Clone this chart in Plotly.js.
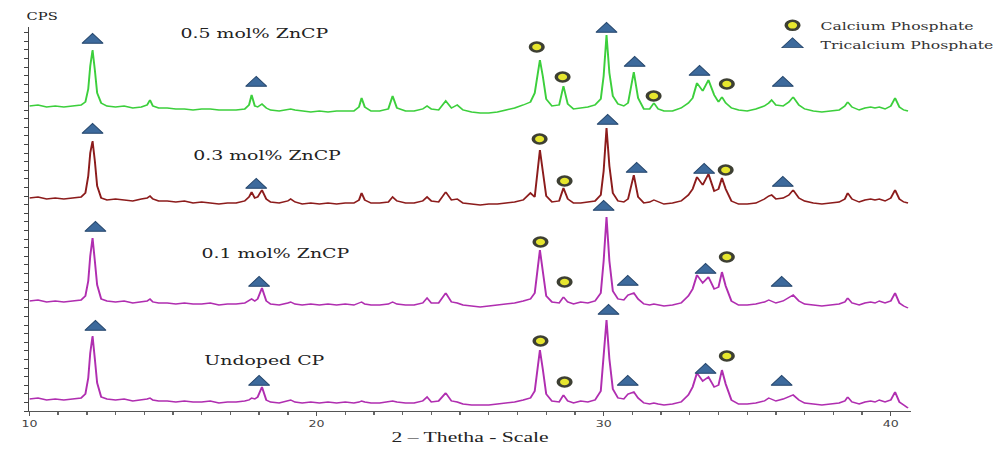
<!DOCTYPE html>
<html>
<head>
<meta charset="utf-8">
<script src="https://cdn.plot.ly/plotly-3.0.1.min.js"></script>
<style>
html,body{margin:0;padding:0;background:#fff;overflow:hidden}
#wrap{width:999px;height:449px;overflow:hidden}
#chart{width:714px;height:449px;transform:scaleX(1.3992);transform-origin:0 0}
</style>
</head>
<body>
<div id="wrap"><div id="chart"></div></div>
<script>
// 2-theta grid (degrees)
const twoTheta = [10.0,10.3,10.6,10.9,11.2,11.5,11.8,11.95,12.05,12.12,
12.2,12.28,12.36,12.5,12.7,13.0,13.3,13.6,13.9,14.1,
14.2,14.3,14.5,14.8,15.1,15.4,15.7,16.0,16.3,16.6,
16.9,17.2,17.5,17.65,17.74,17.85,17.95,18.1,18.25,18.4,
18.7,19.0,19.1,19.25,19.5,19.8,20.1,20.4,20.7,21.0,
21.3,21.48,21.57,21.68,21.9,22.2,22.5,22.65,22.8,23.1,
23.4,23.7,23.85,24.0,24.25,24.5,24.7,24.9,25.1,25.4,
25.7,26.0,26.3,26.6,26.9,27.2,27.45,27.6,27.7,27.78,
27.88,28.0,28.2,28.45,28.6,28.75,28.95,29.2,29.45,29.7,
29.9,30.0,30.1,30.2,30.32,30.5,30.7,30.85,31.05,31.2,
31.4,31.6,31.75,31.9,32.1,32.4,32.7,32.95,33.1,33.25,
33.45,33.65,33.85,34.0,34.12,34.25,34.45,34.7,35.0,35.3,
35.6,35.75,35.85,36.0,36.25,36.45,36.6,36.8,37.0,37.3,
37.6,37.9,38.2,38.4,38.5,38.65,38.9,39.1,39.3,39.45,
39.6,39.8,40.0,40.15,40.3,40.45,40.6];

// stacked CPS readings (arbitrary units) for each sample
const cps05 = [305,306,304,305,304,305,306,309,322,345,
361,341,318,308,305,304,305,303,304,306,
311,305,303,303,302,302,301,302,302,301,
301,301,302,306,316,305,304,307,303,301,
300,301,302,301,300,299,300,299,300,300,
300,304,313,304,300,300,302,315,303,300,
300,302,305,302,301,310,303,306,301,299,
298,298,299,301,303,306,309,318,340,351,
335,312,305,306,325,307,302,303,304,306,
312,335,376,338,315,307,305,308,339,313,
302,302,308,302,300,300,303,308,313,328,
320,331,316,309,314,308,303,301,300,302,
305,308,311,306,305,309,314,306,302,300,
299,300,301,305,309,304,301,303,304,303,
304,302,305,313,304,301,300];

const cps03 = [213,214,212,213,212,213,214,218,235,258,
270,250,225,213,211,212,211,210,212,213,
215,212,210,210,209,210,208,209,208,207,
208,208,210,214,219,213,214,221,212,209,
208,210,212,209,207,208,207,208,207,208,
208,211,218,211,208,208,209,214,210,208,
208,210,214,210,209,219,211,212,208,207,
206,207,207,208,209,211,218,214,238,261,
240,215,209,210,223,212,208,208,209,210,
216,240,283,245,218,210,209,212,236,214,
208,209,211,209,207,208,210,216,222,234,
226,237,220,222,233,222,210,207,207,208,
212,215,216,212,213,216,221,213,210,208,
207,208,209,212,218,212,209,211,212,211,
212,210,213,221,212,209,208];

const cps01 = [110,111,109,110,109,110,111,115,130,155,
173,150,126,112,110,109,110,108,109,110,
112,109,108,108,107,108,107,107,108,106,
107,107,108,110,112,110,112,123,110,107,
106,108,109,107,106,107,106,107,106,107,
106,108,109,107,106,106,107,109,107,106,
106,108,113,108,108,118,109,108,106,105,
104,105,106,107,108,110,112,118,140,161,
140,115,109,108,114,109,107,109,108,110,
118,150,194,150,120,112,111,116,118,112,
107,106,107,106,105,106,108,115,122,136,
128,134,122,124,139,125,110,106,106,107,
109,111,110,108,110,113,116,110,107,106,
105,106,107,109,113,108,106,108,109,108,
110,108,110,118,108,105,103];

const cpsUndoped = [12,13,11,12,11,12,13,17,33,58,
75,52,28,14,12,11,12,10,11,12,
13,11,10,10,9,10,9,9,10,8,
9,9,10,11,13,12,14,24,11,9,
8,10,11,9,8,9,8,9,8,9,
8,9,10,9,8,8,9,10,9,8,
8,10,14,9,10,18,10,9,7,6,
6,6,7,8,9,11,13,20,42,61,
42,17,10,9,16,10,8,10,9,11,
20,50,91,52,22,13,12,17,19,13,
8,7,8,7,6,7,9,16,24,38,
30,34,24,26,41,27,11,7,7,8,
10,13,12,10,12,14,16,11,8,7,
6,7,8,10,14,9,7,9,10,9,
11,9,11,19,9,6,3];

const sampleNames = ["0.5 mol% ZnCP","0.3 mol% ZnCP","0.1 mol% ZnCP","Undoped CP"];
const phaseNames = ["Calcium Phosphate","Tricalcium Phosphate"];

// phase markers (peak identifications)
const triX = [12.2,17.9,30.1,31.08,33.34,36.24, 12.2,17.9,30.14,31.15,33.5,36.24, 12.3,18.0,30.0,30.84,33.55,36.2, 12.3,18.0,30.17,30.84,33.55,36.2];
const triY = [371,328,382,348,339,328, 281,226,290,242,241,228, 183,128,204,129,141,128, 84,29,100,29,41,29];
const circX = [27.67,28.57,31.74,34.29, 27.77,28.64,34.25, 27.8,28.64,34.29, 27.8,28.64,34.29];
const circY = [364,334,315,327, 272,230,241, 169,129,154, 70,29,55];

// label anchor positions
const labelX = [17.84,18.29,18.57,18.19];
const labelY = [378,256,158,51];

const seriesY = [cps05, cps03, cps01, cpsUndoped];
const colors = ['#3ccf3c','#8c1c1c','#b02eb0','#b02eb0'];

const traces = seriesY.map((ys,i)=>({
  x: twoTheta, y: ys, type:'scatter', mode:'lines', name: sampleNames[i],
  line:{color:colors[i], width:1.4}, showlegend:false, hoverinfo:'skip'
}));
traces.push({
  x: circX, y: circY, type:'scatter', mode:'markers', name: phaseNames[0],
  marker:{symbol:'circle', size:9, color:'#e6e62e', line:{color:'#3d3f33', width:2.5}},
  cliponaxis:false, showlegend:true
});
traces.push({
  x: triX, y: triY, type:'scatter', mode:'markers', name: phaseNames[1],
  marker:{symbol:'triangle-up', size:13, color:'#3d6a9c', line:{color:'#25466c', width:0.8}},
  cliponaxis:false, showlegend:true
});

const annotations = sampleNames.map((t,i)=>({
  text:t, x:labelX[i], y:labelY[i], xref:'x', yref:'y', showarrow:false,
  font:{family:'DejaVu Serif', size:13.5, color:'#222'}
}));
annotations.push({text:'CPS', xref:'paper', yref:'paper', x:-0.006, y:1.05, showarrow:false,
  font:{family:'DejaVu Serif', size:10.5, color:'#222'}});

const layout = {
  width:714, height:449,
  margin:{l:21, r:63, t:27, b:38, autoexpand:false},
  paper_bgcolor:'#fff', plot_bgcolor:'#fff',
  showlegend:true,
  legend:{x:0.834, y:1.042, xanchor:'left', yanchor:'top', bgcolor:'rgba(0,0,0,0)',
    font:{family:'DejaVu Serif', size:11.2, color:'#333'}, tracegroupgap:0},
  xaxis:{range:[10,40.7], showgrid:false, zeroline:false, showline:true, linecolor:'#555', linewidth:1,
    ticks:'outside', ticklen:4, tickcolor:'#555', tick0:10, dtick:10, automargin:false,
    minor:{dtick:1, ticks:'outside', ticklen:3, tickcolor:'#666'},
    tickfont:{family:'DejaVu Sans', size:9, color:'#444'},
    title:{text:'2 – Thetha - Scale', font:{family:'Liberation Serif', size:15.5, color:'#222'}, standoff:3}},
  yaxis:{range:[0,384], showgrid:false, zeroline:false, showline:true, linecolor:'#444', linewidth:1, automargin:false,
    ticks:'outside', ticklen:3, tickcolor:'#444', tick0:0, dtick:8.6, showticklabels:false},
  annotations: annotations
};

Plotly.newPlot('chart', traces, layout, {staticPlot:true, displayModeBar:false});
</script>
</body>
</html>
